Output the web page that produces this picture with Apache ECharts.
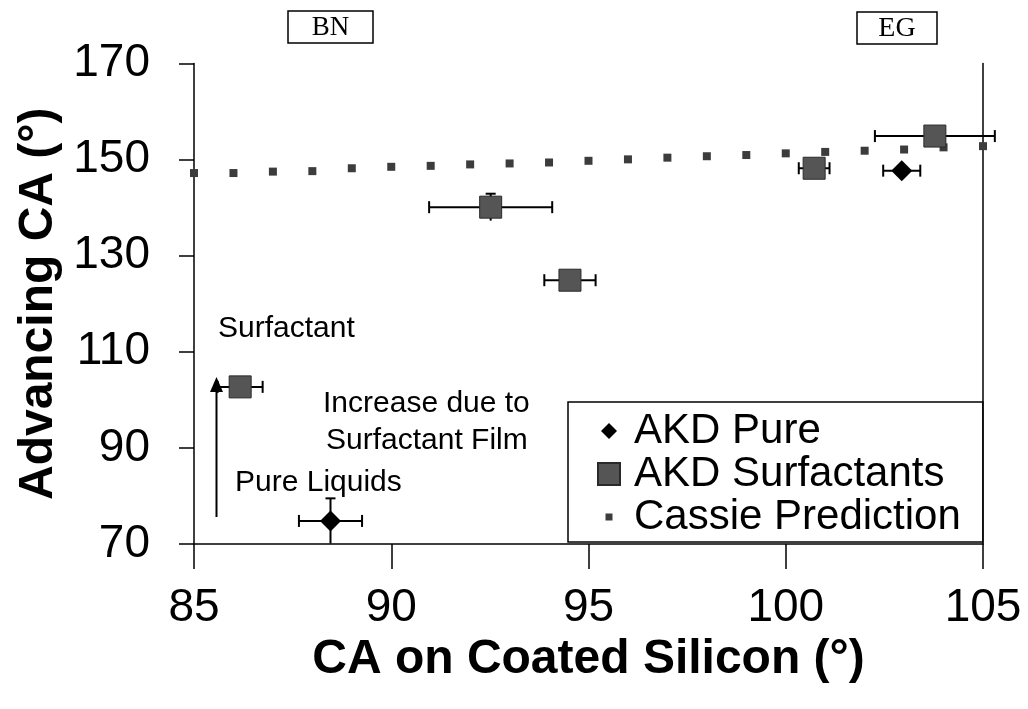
<!DOCTYPE html>
<html><head><meta charset="utf-8">
<script src="https://cdn.jsdelivr.net/npm/echarts@6/dist/echarts.min.js"></script>
<style>html,body{margin:0;padding:0;background:#fff}#c{width:1028px;height:709px}</style>
</head><body><div id="c"></div>
<script>
// ---- data ----
const cassieX = [85,86,87,88,89,90,91,92,93,94,95,96,97,98,99,100,101,102,103,104,105];
const cassieY = [147.2,147.2,147.5,147.6,148.2,148.5,148.7,149.0,149.2,149.4,149.75,150.05,150.4,150.7,150.95,151.3,151.6,151.85,152.1,152.55,152.8];
const akdPureX = [88.46, 102.94];
const akdPureY = [74.8, 147.7];
const akdPureXErr = [0.8, 0.47];
const akdPureYErr = [4.7, 0];
const akdSurfX = [86.17, 92.52, 94.53, 100.72, 103.78];
const akdSurfY = [102.7, 140.1, 124.9, 148.2, 154.9];
const akdSurfXErr = [0.57, 1.56, 0.65, 0.39, 1.52];
const akdSurfYErr = [0, 2.8, 0, 0, 0];
const xTickMin = 85, xTickMax = 105, xTickStep = 5;
const yTickMin = 70, yTickMax = 170, yTickStep = 20;
const seriesNames = ['AKD Pure', 'AKD Surfactants', 'Cassie Prediction'];

const FONT = '"Liberation Sans", Arial, sans-serif';
const zip = (a, b) => a.map((v, i) => [v, b[i]]);
const errData = [];
akdPureX.forEach((x, i) => errData.push([x, akdPureY[i], akdPureXErr[i], akdPureYErr[i]]));
akdSurfX.forEach((x, i) => errData.push([x, akdSurfY[i], akdSurfXErr[i], akdSurfYErr[i]]));

function renderErr(params, api) {
  const x = api.value(0), y = api.value(1), ex = api.value(2), ey = api.value(3);
  const st = { stroke: '#000', lineWidth: 2 };
  const ch = [];
  if (ex > 0) {
    const l = api.coord([x - ex, y]), r = api.coord([x + ex, y]);
    ch.push({ type: 'line', shape: { x1: l[0], y1: l[1], x2: r[0], y2: r[1] }, style: st });
    ch.push({ type: 'line', shape: { x1: l[0], y1: l[1] - 6, x2: l[0], y2: l[1] + 6 }, style: st });
    ch.push({ type: 'line', shape: { x1: r[0], y1: r[1] - 6, x2: r[0], y2: r[1] + 6 }, style: st });
  }
  if (ey > 0) {
    const t = api.coord([x, y + ey]), b = api.coord([x, y - ey]);
    ch.push({ type: 'line', shape: { x1: t[0], y1: t[1], x2: b[0], y2: b[1] }, style: st });
    ch.push({ type: 'line', shape: { x1: t[0] - 5, y1: t[1], x2: t[0] + 5, y2: t[1] }, style: st });
  }
  return { type: 'group', children: ch };
}

const chart = echarts.init(document.getElementById('c'), null, { renderer: 'canvas' });
const axisLineStyle = { color: '#000', width: 1.5 };
chart.setOption({
  backgroundColor: '#fff',
  animation: false,
  textStyle: { fontFamily: FONT },
  grid: { left: 194, right: 45, top: 63.5, bottom: 165, containLabel: false },
  xAxis: {
    type: 'value', min: xTickMin, max: xTickMax, interval: xTickStep,
    axisLine: { lineStyle: axisLineStyle },
    axisTick: { length: 25, lineStyle: axisLineStyle },
    axisLabel: { fontSize: 46, margin: 41, color: '#000', fontFamily: FONT },
    splitLine: { show: false },
    name: 'CA on Coated Silicon (°)', nameLocation: 'middle', nameGap: 88,
    nameTextStyle: { fontSize: 48, fontWeight: 'bold', color: '#000', fontFamily: FONT }
  },
  yAxis: [{
    type: 'value', min: yTickMin, max: yTickMax, interval: yTickStep,
    axisLine: { show: true, lineStyle: axisLineStyle },
    axisTick: { show: true, length: 15, lineStyle: axisLineStyle },
    axisLabel: { fontSize: 46, margin: 44, color: '#000', fontFamily: FONT },
    splitLine: { show: false },
    name: 'Advancing CA (°)', nameLocation: 'middle', nameGap: 124,
    nameTextStyle: { fontSize: 48, fontWeight: 'bold', color: '#000', fontFamily: FONT }
  }, {
    type: 'value', position: 'right', min: yTickMin, max: yTickMax, interval: yTickStep,
    axisLine: { show: true, lineStyle: axisLineStyle },
    axisTick: { show: false }, axisLabel: { show: false }, splitLine: { show: false }
  }],
  legend: {
    orient: 'vertical', left: 568, top: 402,
    backgroundColor: '#fff', borderColor: '#000', borderWidth: 1.5,
    padding: [8, 22, 4, 29], itemWidth: 22, itemHeight: 22, itemGap: 1,
    textStyle: { fontSize: 42, lineHeight: 42, color: '#000', fontFamily: FONT, padding: [0, 0, 0, 9] },
    data: [
      { name: seriesNames[0], icon: 'path://M0,0M22,22M11,3L19,11L11,19L3,11Z' },
      { name: seriesNames[1], icon: 'rect' },
      { name: seriesNames[2], icon: 'path://M0,0M22,22M7.5,7.5L14.5,7.5L14.5,14.5L7.5,14.5Z' }
    ]
  },
  series: [
    { type: 'custom', name: 'err', renderItem: renderErr, data: errData, z: 2, clip: false,
      encode: { x: 0, y: 1 }, silent: true },
    { type: 'scatter', name: seriesNames[2], data: zip(cassieX, cassieY), symbol: 'rect', symbolSize: 8,
      itemStyle: { color: '#3c3c3c', opacity: 1 }, z: 3 },
    { type: 'scatter', name: seriesNames[1], data: zip(akdSurfX, akdSurfY), symbol: 'rect', symbolSize: 22,
      itemStyle: { color: '#555555', borderColor: '#2a2a2a', borderWidth: 1, opacity: 1 }, z: 4 },
    { type: 'scatter', name: seriesNames[0], data: zip(akdPureX, akdPureY), symbol: 'diamond', symbolSize: [21, 21],
      itemStyle: { color: '#000', opacity: 1 }, z: 5 }
  ],
  graphic: [
    { type: 'rect', shape: { x: 288, y: 11, width: 85, height: 32 }, style: { fill: '#fff', stroke: '#000', lineWidth: 1.5 } },
    { type: 'text', x: 330.5, y: 28, style: { text: 'BN', font: '27px "Liberation Serif", "Times New Roman", serif', fill: '#000', align: 'center', verticalAlign: 'middle' } },
    { type: 'rect', shape: { x: 857, y: 12, width: 80, height: 32 }, style: { fill: '#fff', stroke: '#000', lineWidth: 1.5 } },
    { type: 'text', x: 897, y: 29, style: { text: 'EG', font: '28px "Liberation Serif", "Times New Roman", serif', fill: '#000', align: 'center', verticalAlign: 'middle' } },
    { type: 'text', x: 218, y: 329, style: { text: 'Surfactant', font: '30px ' + FONT, fill: '#000', align: 'left', verticalAlign: 'middle' } },
    { type: 'text', x: 323, y: 404, style: { text: 'Increase due to', font: '30px ' + FONT, fill: '#000', align: 'left', verticalAlign: 'middle' } },
    { type: 'text', x: 326, y: 441, style: { text: 'Surfactant Film', font: '30px ' + FONT, fill: '#000', align: 'left', verticalAlign: 'middle' } },
    { type: 'text', x: 235, y: 483, style: { text: 'Pure Liquids', font: '30px ' + FONT, fill: '#000', align: 'left', verticalAlign: 'middle' } },
    { type: 'line', shape: { x1: 216.5, y1: 517, x2: 216.5, y2: 390 }, style: { stroke: '#000', lineWidth: 2 } },
    { type: 'polygon', shape: { points: [[210, 392], [223, 392], [216.5, 377]] }, style: { fill: '#000' } }
  ]
});
</script></body></html>
